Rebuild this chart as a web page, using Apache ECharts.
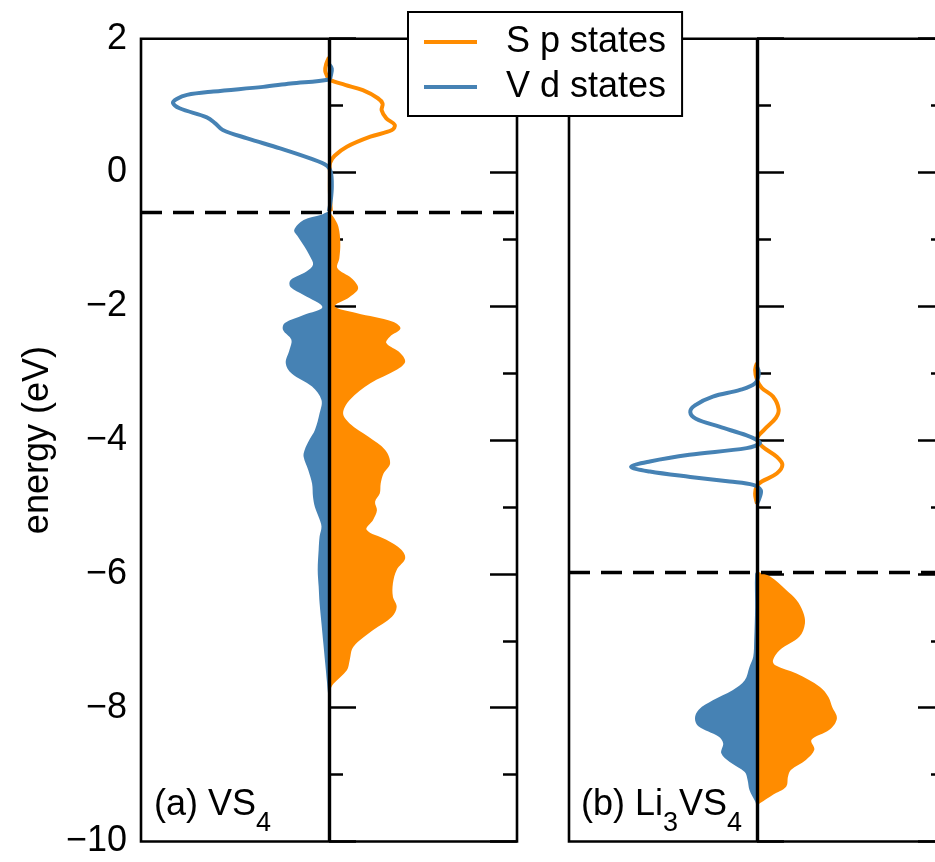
<!DOCTYPE html>
<html>
<head>
<meta charset="utf-8">
<script src="https://cdn.jsdelivr.net/npm/echarts@6/dist/echarts.min.js"></script>
<style>
html, body { margin: 0; padding: 0; background: #fff; }
#chart { width: 935px; height: 862px; }
</style>
</head>
<body>
<div id="chart"></div>
<script>
// Projected density of states of VS4 and Li3VS4.
// Each curve is a list of [energy (eV), DOS] pairs; V d states are plotted to the left (negative).

const FONT = '"Liberation Sans", Arial, Helvetica, sans-serif';
const ORANGE = '#ff8c00';
const BLUE = '#4682b4';

const seriesNames = ['S p states', 'V d states'];
const fermiLevels = [-0.6, -5.97];
// panel captions: [text, isSubscript] pieces
const panelLabels = [
  [['(a) VS', false], ['4', true]],
  [['(b) Li', false], ['3', true], ['VS', false], ['4', true]]
];
const energyTicks = { min: -10, max: 2, step: 2 };

// (a) VS4 — unoccupied states (drawn as outlines)
const vs4SpEmpty = [[1.72, 0.00], [1.62, -0.03], [1.52, -0.04], [1.44, -0.02], [1.39, 0.00], [1.31, 0.17],
  [1.23, 0.36], [1.11, 0.52], [1.03, 0.57], [0.93, 0.56], [0.81, 0.61], [0.71, 0.70], [0.635, 0.67],
  [0.535, 0.44], [0.385, 0.19], [0.25, 0.06], [0.14, 0.01], [0.0, 0.01], [-0.3, 0.01], [-0.58, 0.02]];
const vs4VdEmpty = [[1.62, 0.00], [1.55, 0.03], [1.45, 0.02], [1.39, 0.00], [1.33, -0.41], [1.28, -0.70],
  [1.21, -1.23], [1.16, -1.51], [1.10, -1.62], [1.04, -1.66], [0.96, -1.59], [0.825, -1.30], [0.735, -1.21],
  [0.635, -1.13], [0.51, -0.87], [0.36, -0.52], [0.21, -0.20], [0.10, -0.02], [0.0, 0.02], [-0.2, 0.03],
  [-0.4, 0.02], [-0.58, 0.00]];

// (a) VS4 — occupied states (filled)
const vs4SpFilled = [[-0.60, 0.00], [-0.65, 0.04], [-0.81, 0.10], [-1.06, 0.12], [-1.28, 0.11], [-1.43, 0.09],
  [-1.58, 0.24], [-1.73, 0.31], [-1.86, 0.22], [-2.00, 0.06], [-2.10, 0.29], [-2.23, 0.68], [-2.33, 0.76],
  [-2.45, 0.65], [-2.55, 0.61], [-2.70, 0.76], [-2.83, 0.81], [-2.95, 0.72], [-3.15, 0.44], [-3.40, 0.22],
  [-3.60, 0.15], [-3.75, 0.22], [-3.95, 0.42], [-4.15, 0.60], [-4.35, 0.65], [-4.50, 0.58], [-4.65, 0.55],
  [-4.80, 0.54], [-4.92, 0.49], [-5.05, 0.51], [-5.19, 0.47], [-5.34, 0.40], [-5.49, 0.61], [-5.64, 0.77],
  [-5.77, 0.81], [-5.94, 0.72], [-6.14, 0.68], [-6.34, 0.68], [-6.49, 0.72], [-6.64, 0.67], [-6.84, 0.47],
  [-7.09, 0.26], [-7.29, 0.22], [-7.44, 0.19], [-7.64, 0.05], [-7.74, 0.01], [-7.80, 0.00]];
const vs4VdFilled = [[-0.60, 0.00], [-0.63, -0.08], [-0.71, -0.27], [-0.86, -0.37], [-0.96, -0.33], [-1.11, -0.26],
  [-1.26, -0.20], [-1.38, -0.17], [-1.48, -0.24], [-1.61, -0.41], [-1.71, -0.41], [-1.83, -0.27], [-2.01, -0.07],
  [-2.13, -0.27], [-2.25, -0.47], [-2.35, -0.49], [-2.50, -0.40], [-2.65, -0.42], [-2.85, -0.46], [-3.00, -0.40],
  [-3.20, -0.18], [-3.40, -0.08], [-3.60, -0.10], [-3.85, -0.15], [-4.00, -0.21], [-4.15, -0.26], [-4.25, -0.27],
  [-4.45, -0.22], [-4.65, -0.18], [-4.85, -0.17], [-5.00, -0.15], [-5.15, -0.11], [-5.29, -0.08], [-5.44, -0.10],
  [-5.64, -0.11], [-5.94, -0.12], [-6.19, -0.11], [-6.44, -0.10], [-6.74, -0.08], [-7.04, -0.06], [-7.34, -0.04],
  [-7.64, -0.02], [-7.79, -0.01], [-7.85, 0.00]];

// (b) Li3VS4 — unoccupied states
const li3SpEmpty = [[-2.85, 0.00], [-2.95, -0.02], [-3.10, 0.00], [-3.22, 0.05], [-3.35, 0.17], [-3.54, 0.23],
  [-3.67, 0.20], [-3.84, 0.08], [-3.98, 0.00], [-4.10, 0.06], [-4.25, 0.21], [-4.37, 0.27], [-4.50, 0.21],
  [-4.62, 0.05], [-4.68, 0.00], [-4.80, -0.02], [-4.95, 0.00]];
const li3VdEmpty = [[-2.90, 0.00], [-3.00, 0.02], [-3.15, -0.02], [-3.25, -0.18], [-3.35, -0.47], [-3.48, -0.66],
  [-3.58, -0.71], [-3.68, -0.65], [-3.80, -0.40], [-3.93, -0.11], [-4.00, 0.00], [-4.05, 0.03], [-4.12, -0.11],
  [-4.22, -0.72], [-4.32, -1.14], [-4.40, -1.34], [-4.47, -1.14], [-4.55, -0.71], [-4.62, -0.29], [-4.67, -0.04],
  [-4.75, 0.04], [-4.85, 0.03], [-4.95, 0.00]];

// (b) Li3VS4 — occupied states
const li3SpFilled = [[-5.95, 0.00], [-5.98, 0.03], [-6.04, 0.14], [-6.24, 0.31], [-6.39, 0.42], [-6.57, 0.49],
  [-6.74, 0.51], [-6.94, 0.45], [-7.14, 0.24], [-7.29, 0.17], [-7.36, 0.19], [-7.49, 0.42], [-7.69, 0.67],
  [-7.84, 0.76], [-7.99, 0.80], [-8.16, 0.85], [-8.33, 0.77], [-8.48, 0.58], [-8.63, 0.61], [-8.78, 0.52],
  [-8.93, 0.36], [-9.03, 0.33], [-9.18, 0.31], [-9.30, 0.17], [-9.43, 0.03], [-9.47, 0.00]];
const li3VdFilled = [[-5.97, 0.00], [-6.00, -0.02], [-6.50, -0.02], [-7.00, -0.03], [-7.24, -0.04], [-7.39, -0.08],
  [-7.59, -0.13], [-7.74, -0.26], [-7.89, -0.47], [-8.03, -0.62], [-8.16, -0.66], [-8.28, -0.62], [-8.43, -0.41],
  [-8.53, -0.36], [-8.68, -0.38], [-8.81, -0.29], [-8.96, -0.13], [-9.08, -0.10], [-9.23, -0.08], [-9.40, -0.02],
  [-9.47, 0.00]];

// One custom series draws one whole curve: a filled region against DOS = 0, or an outline.
function dosSeries(name, panel, curve, color, filled) {
  const pts = curve.map(p => [p[1], p[0]]);   // x = DOS, y = energy
  return {
    type: 'custom',
    name: name,
    xAxisIndex: panel,
    yAxisIndex: panel * 2,
    itemStyle: { color: color },
    z: filled ? 2 : 3,
    silent: true,
    animation: false,
    data: pts,
    encode: { x: 0, y: 1 },
    renderItem: function (params, api) {
      if (params.dataIndex !== 0) return null;
      const points = pts.map(p => api.coord(p));
      if (filled) {
        return {
          type: 'polygon',
          shape: { points: points, smooth: 0.35 },
          style: { fill: color, stroke: null }
        };
      }
      return {
        type: 'polyline',
        shape: { points: points, smooth: 0.35 },
        style: { stroke: color, lineWidth: 4, fill: null, lineJoin: 'round' }
      };
    }
  };
}

// Zero line and dashed Fermi level of each panel
function guideSeries(panel) {
  return {
    type: 'line',
    xAxisIndex: panel,
    yAxisIndex: panel * 2,
    data: [],
    silent: true,
    z: 5,
    markLine: {
      silent: true,
      animation: false,
      symbol: ['none', 'none'],
      label: { show: false },
      data: [
        { xAxis: 0, lineStyle: { color: '#000', width: 3.4, type: 'solid' } },
        { yAxis: fermiLevels[panel], lineStyle: { color: '#000', width: 3.4, type: [21, 11] } }
      ]
    }
  };
}

const minus = v => (v < 0 ? '\u2212' + (-v) : String(v));

function energyAxis(panel, position, labelled) {
  return {
    type: 'value',
    gridIndex: panel,
    position: position,
    min: energyTicks.min,
    max: energyTicks.max,
    interval: energyTicks.step,
    axisLine: { show: false },
    axisTick: { show: true, inside: true, length: 27, lineStyle: { color: '#000', width: 2.5 } },
    minorTick: { show: true, splitNumber: 2, length: 14, lineStyle: { color: '#000', width: 2.5 } },
    splitLine: { show: false },
    minorSplitLine: { show: false },
    axisLabel: {
      show: labelled, margin: 14, fontSize: 36, fontFamily: FONT, color: '#000', formatter: minus
    },
    name: labelled ? 'energy (eV)' : '',
    nameLocation: 'middle',
    nameGap: 85,
    nameTextStyle: { fontSize: 36, fontFamily: FONT, color: '#000' }
  };
}

function dosAxis(panel) {
  return { type: 'value', gridIndex: panel, min: -2, max: 2, show: false };
}

const gridBox = {
  top: 38.7, height: 802.8, width: 376, show: true, outerBoundsMode: 'none', containLabel: false,
  borderColor: '#000', borderWidth: 2.6, backgroundColor: 'transparent'
};

// Panel captions with subscripts, laid out piece by piece
const MAIN_SIZE = 36, SUB_SIZE = 27, SUB_DROP = 14;
const measureCtx = document.createElement('canvas').getContext('2d');
function captionPieces(parts, x0, baseline) {
  let x = x0;
  return parts.map(([text, sub]) => {
    const size = sub ? SUB_SIZE : MAIN_SIZE;
    measureCtx.font = size + 'px ' + FONT;
    const el = {
      type: 'text', x: x, y: baseline + (sub ? SUB_DROP : 0), z: 10, silent: true,
      style: { text: text, fontSize: size, fontFamily: FONT, fill: '#000', verticalAlign: 'bottom' }
    };
    x += measureCtx.measureText(text).width + (sub ? 1 : 0);
    return el;
  });
}

const chart = echarts.init(document.getElementById('chart'), null, { renderer: 'canvas' });

chart.setOption({
  animation: false,
  backgroundColor: '#fff',
  grid: [
    Object.assign({ left: 141 }, gridBox),
    Object.assign({ left: 569 }, gridBox)
  ],
  xAxis: [dosAxis(0), dosAxis(1)],
  yAxis: [
    energyAxis(0, 'left', true), energyAxis(0, 'right', false),
    energyAxis(1, 'left', false), energyAxis(1, 'right', false)
  ],
  legend: {
    left: 408,
    top: 12,
    orient: 'vertical',
    selectedMode: false,
    data: [
      { name: seriesNames[0], icon: 'rect' },
      { name: seriesNames[1], icon: 'rect' }
    ],
    itemWidth: 53,
    itemHeight: 4,
    itemGap: 5,
    textStyle: { fontSize: 36, fontFamily: FONT, color: '#000', lineHeight: 40, padding: [0, 0, 0, 24] },
    backgroundColor: '#fff',
    borderColor: '#000',
    borderWidth: 2,
    borderRadius: 0,
    padding: [10, 16, 9, 16],
    z: 10
  },
  graphic: []
    .concat(captionPieces(panelLabels[0], 154, 823))
    .concat(captionPieces(panelLabels[1], 581, 823)),
  series: [
    dosSeries(seriesNames[0], 0, vs4SpFilled, ORANGE, true),
    dosSeries(seriesNames[1], 0, vs4VdFilled, BLUE, true),
    dosSeries(seriesNames[0], 0, vs4SpEmpty, ORANGE, false),
    dosSeries(seriesNames[1], 0, vs4VdEmpty, BLUE, false),
    dosSeries(seriesNames[0], 1, li3SpFilled, ORANGE, true),
    dosSeries(seriesNames[1], 1, li3VdFilled, BLUE, true),
    dosSeries(seriesNames[0], 1, li3SpEmpty, ORANGE, false),
    dosSeries(seriesNames[1], 1, li3VdEmpty, BLUE, false),
    guideSeries(0),
    guideSeries(1)
  ]
});
</script>
</body>
</html>
